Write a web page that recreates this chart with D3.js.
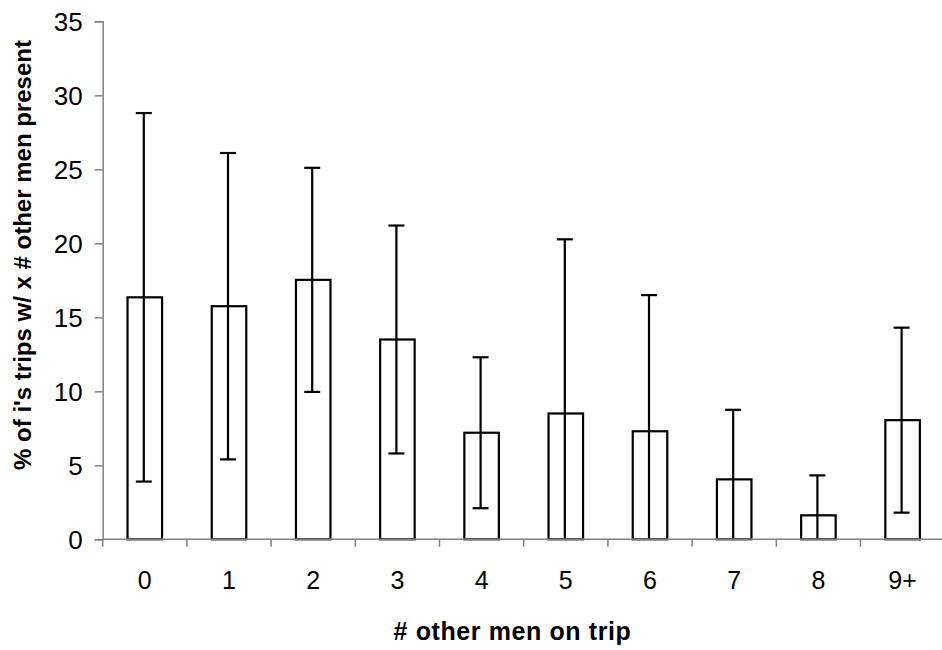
<!DOCTYPE html>
<html>
<head>
<meta charset="utf-8">
<script src="https://cdn.jsdelivr.net/npm/d3@7"></script>
<style>
  html, body { margin: 0; padding: 0; background: #fff; }
  svg { display: block; }
</style>
</head>
<body>
<svg id="chart" width="942" height="650"></svg>
<script>
const categories = ["0", "1", "2", "3", "4", "5", "6", "7", "8", "9+"];
const values = [16.35, 15.75, 17.53, 13.5, 7.2, 8.5, 7.3, 4.05, 1.62, 8.05];
const errors = [12.45, 10.35, 7.57, 7.7, 5.1, 11.77, 9.2, 4.7, 2.7, 6.25];
const yTicks = [0, 5, 10, 15, 20, 25, 30, 35];

(function () {
const svg = d3.select("#chart");
const pLeft = 102.7, pRight = 944.7, pTop = 21.3, pBottom = 539.3;
const font = "'Liberation Sans', Arial, sans-serif";

const x = d3.scaleBand().domain(categories).range([pLeft, pRight]).padding(0);
const y = d3.scaleLinear().domain([0, 35]).range([pBottom, pTop]);
const barW = x.bandwidth() * 0.41;
const capW = 16;

// y axis
const yAxis = svg.append("g").attr("transform", `translate(${pLeft},0)`)
  .call(d3.axisLeft(y).tickValues(yTicks).tickSize(8).tickPadding(12).tickFormat(d3.format("d")));
yAxis.select(".domain").attr("stroke", "#808080").attr("stroke-width", 1.5);
yAxis.selectAll(".tick line").attr("stroke", "#808080").attr("stroke-width", 1.5);
yAxis.selectAll("text").attr("font-family", font).attr("font-size", 26).attr("fill", "#000")
  .attr("dy", "0.36em");

// bars
svg.append("g").selectAll("rect").data(categories).join("rect")
  .attr("x", (d) => x(d) + (x.bandwidth() - barW) / 2)
  .attr("y", (d, i) => y(values[i]))
  .attr("width", barW)
  .attr("height", (d, i) => y(0) - y(values[i]))
  .attr("fill", "#fff")
  .attr("stroke", "#000")
  .attr("stroke-width", 2.2);

// error bars
const eg = svg.append("g").attr("stroke", "#000").attr("stroke-width", 2.2);
categories.forEach((c, i) => {
  const cx = x(c) + x.bandwidth() / 2 - 1;
  const hi = values[i] + errors[i];
  const lo = Math.max(0, values[i] - errors[i]);
  eg.append("line").attr("x1", cx).attr("x2", cx).attr("y1", y(hi)).attr("y2", y(lo));
  eg.append("line").attr("x1", cx - capW / 2).attr("x2", cx + capW / 2).attr("y1", y(hi)).attr("y2", y(hi));
  if (lo > 0) {
    eg.append("line").attr("x1", cx - capW / 2).attr("x2", cx + capW / 2).attr("y1", y(lo)).attr("y2", y(lo));
  }
});

// x axis
const xg = svg.append("g");
xg.append("line").attr("x1", pLeft).attr("x2", pRight).attr("y1", pBottom).attr("y2", pBottom)
  .attr("stroke", "#808080").attr("stroke-width", 1.5);
xg.selectAll(".xt").data(categories.concat(["end"])).join("line").attr("class", "xt")
  .attr("x1", (d, i) => pLeft + i * x.bandwidth())
  .attr("x2", (d, i) => pLeft + i * x.bandwidth())
  .attr("y1", pBottom).attr("y2", pBottom + 7.5)
  .attr("stroke", "#808080").attr("stroke-width", 1.5);
xg.selectAll(".xl").data(categories).join("text").attr("class", "xl")
  .attr("x", (d) => x(d) + x.bandwidth() / 2)
  .attr("y", 589)
  .attr("text-anchor", "middle")
  .attr("font-family", font).attr("font-size", 25).attr("fill", "#000")
  .text((d) => d);

// titles
svg.append("text").attr("x", 512.5).attr("y", 640).attr("text-anchor", "middle")
  .attr("font-family", font).attr("font-size", 25).attr("font-weight", "bold")
  .attr("letter-spacing", 0.6)
  .text("# other men on trip");
svg.append("text").attr("transform", "translate(31,255) rotate(-90)").attr("text-anchor", "middle")
  .attr("font-family", font).attr("font-size", 24).attr("font-weight", "bold")
  .text("% of i's trips w/ x # other men present");
})();
</script>
</body>
</html>
